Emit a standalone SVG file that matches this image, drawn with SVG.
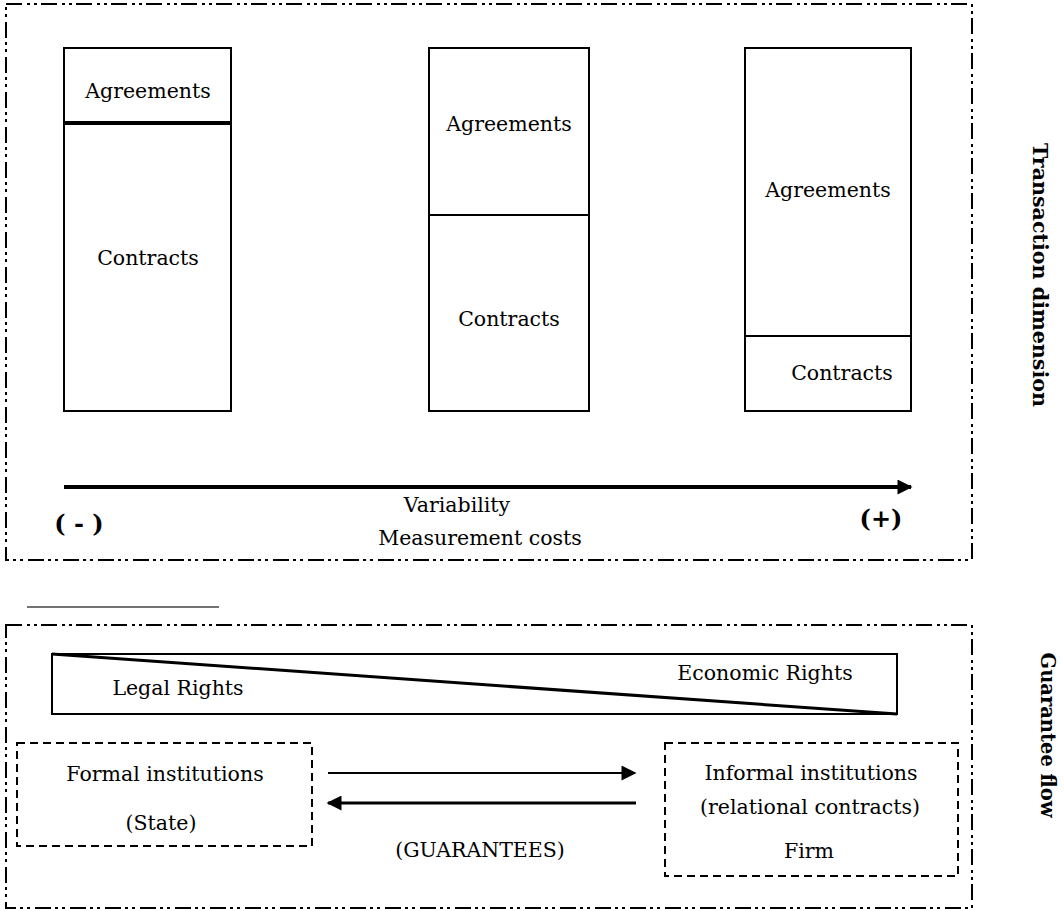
<svg xmlns="http://www.w3.org/2000/svg" width="1064" height="911" viewBox="0 0 1064 911">
<defs>
<style>
text{font-family:"DejaVu Serif","Liberation Serif",serif;font-size:20.5px;fill:#000;text-anchor:middle}
.frame{fill:none;stroke:#000;stroke-width:2;stroke-dasharray:16 5 3 4 3 4}
.box{fill:#fff;stroke:#000;stroke-width:2}
.dash{fill:none;stroke:#000;stroke-width:2;stroke-dasharray:8 5}
.side{font-weight:bold;font-size:21px}
.pm{font-weight:bold;font-size:24px}
</style>
<marker id="ah" viewBox="0 0 10 10" refX="9" refY="5" markerWidth="17" markerHeight="15" markerUnits="userSpaceOnUse" orient="auto">
<path d="M0,0 L10,5 L0,10 z" fill="#000"/>
</marker>
<marker id="ahBig" viewBox="0 0 10 10" refX="9" refY="5" markerWidth="17" markerHeight="15" markerUnits="userSpaceOnUse" orient="auto">
<path d="M0,0 L10,5 L0,10 z" fill="#000"/>
</marker>
</defs>
<rect width="1064" height="911" fill="#fff"/>
<g id="frame-top"><rect class="frame" x="6" y="4" width="966" height="556"/></g>
<g id="frame-bottom"><rect class="frame" x="6" y="625" width="966" height="283"/></g>
<line x1="27" y1="607" x2="219" y2="607" stroke="#444" stroke-width="1.5"/>
<g id="col1">
<rect class="box" x="64" y="48" width="167" height="363"/>
<line x1="64" y1="123" x2="231" y2="123" stroke="#000" stroke-width="4"/>
<text x="148" y="98">Agreements</text>
<text x="148" y="265">Contracts</text>
</g>
<g id="col2">
<rect class="box" x="429" y="48" width="160" height="363"/>
<line x1="429" y1="215" x2="589" y2="215" stroke="#000" stroke-width="2"/>
<text x="509" y="131">Agreements</text>
<text x="509" y="326">Contracts</text>
</g>
<g id="col3">
<rect class="box" x="745" y="48" width="166" height="363"/>
<line x1="745" y1="336" x2="911" y2="336" stroke="#000" stroke-width="2"/>
<text x="828" y="197">Agreements</text>
<text x="842" y="380">Contracts</text>
</g>
<g id="connectors">
<line x1="64" y1="487" x2="911" y2="487" stroke="#000" stroke-width="4" marker-end="url(#ahBig)"/>
<line x1="328" y1="773" x2="635" y2="773" stroke="#000" stroke-width="2" marker-end="url(#ah)"/>
<line x1="636" y1="803" x2="328" y2="803" stroke="#000" stroke-width="3" marker-end="url(#ah)"/>
</g>
<g id="axis-labels">
<text x="457" y="512">Variability</text>
<text x="480" y="545">Measurement costs</text>
<text class="pm" x="79" y="532">( - )</text>
<text class="pm" x="881" y="527">(+)</text>
</g>
<g id="rights">
<rect class="box" x="52" y="654" width="845" height="60"/>
<line x1="52" y1="654" x2="897" y2="714" stroke="#000" stroke-width="3"/>
<text x="178" y="695">Legal Rights</text>
<text x="765" y="680">Economic Rights</text>
</g>
<g id="formal">
<rect class="dash" x="17" y="743" width="295" height="103"/>
<text x="165" y="781">Formal institutions</text>
<text x="161" y="830">(State)</text>
</g>
<g id="informal">
<rect class="dash" x="665" y="743" width="293" height="133"/>
<text x="811" y="780">Informal institutions</text>
<text x="810" y="814">(relational contracts)</text>
<text x="809" y="858">Firm</text>
</g>
<g id="guarantees"><text x="480" y="857">(GUARANTEES)</text></g>
<g id="side-labels">
<text class="side" transform="translate(1033,275) rotate(90)" textLength="264" lengthAdjust="spacingAndGlyphs">Transaction dimension</text>
<text class="side" transform="translate(1041,735) rotate(90)" textLength="165" lengthAdjust="spacingAndGlyphs">Guarantee flow</text>
</g>
</svg>
